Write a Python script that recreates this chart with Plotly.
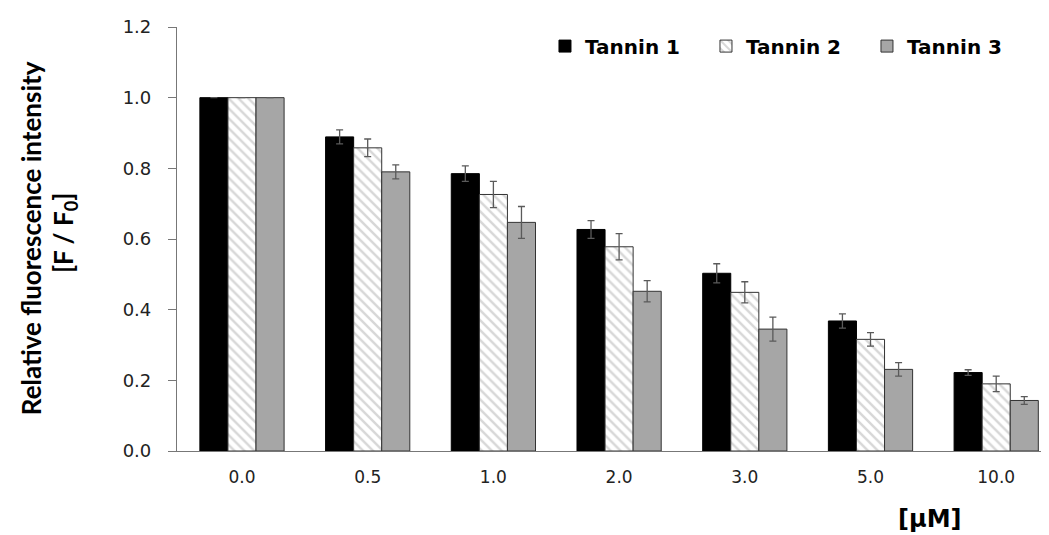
import plotly.graph_objects as go

categories = ["0.0", "0.5", "1.0", "2.0", "3.0", "5.0", "10.0"]
tannin1 = [1.0, 0.889, 0.785, 0.627, 0.503, 0.368, 0.222]
tannin2 = [1.0, 0.858, 0.726, 0.578, 0.449, 0.316, 0.190]
tannin3 = [1.0, 0.790, 0.647, 0.452, 0.345, 0.231, 0.143]
err1 = [0.0, 0.020, 0.022, 0.025, 0.027, 0.020, 0.008]
err2 = [0.0, 0.025, 0.037, 0.037, 0.030, 0.019, 0.022]
err3 = [0.0, 0.020, 0.045, 0.030, 0.034, 0.019, 0.011]

xpos = list(range(len(categories)))

def ebar(e):
    return dict(type="data", array=e, visible=True, color="#5a5a5a", thickness=1.3, width=3.5)

fig = go.Figure()
fig.add_trace(go.Bar(
    x=xpos, y=tannin1, name="Tannin 1", error_y=ebar(err1),
    marker=dict(color="#000000", line=dict(color="#000000", width=1)),
))
fig.add_trace(go.Bar(
    x=xpos, y=tannin2, name="Tannin 2", error_y=ebar(err2),
    marker=dict(color="#ffffff", line=dict(color="#333333", width=1),
                pattern=dict(shape="\\", fgcolor="#b0b0b0", bgcolor="#ffffff", size=7, solidity=0.35)),
))
fig.add_trace(go.Bar(
    x=xpos, y=tannin3, name="Tannin 3", error_y=ebar(err3),
    marker=dict(color="#a6a6a6", line=dict(color="#333333", width=1)),
))

fig.update_layout(
    width=1049, height=535,
    margin=dict(l=169, r=8, t=11, b=92),
    paper_bgcolor="white", plot_bgcolor="white",
    barmode="group", bargap=0.33, bargroupgap=0,
    font=dict(family="DejaVu Sans", color="#222222"),
    showlegend=True,
    legend=dict(orientation="h", x=0.422, y=0.955, xanchor="left", yanchor="middle",
                font=dict(family="DejaVu Sans", size=20, color="#000000", weight="bold"),
                itemwidth=30, entrywidth=116, traceorder="normal", bgcolor="rgba(0,0,0,0)"),
    xaxis=dict(
        tickmode="array", tickvals=xpos, ticktext=categories,
        range=[-0.517, 6.42], showgrid=False, ticks="",
        showline=True, linecolor="#777777", linewidth=1.2,
        tickfont=dict(family="DejaVu Sans", size=17, color="#222222"),
        ticklabelstandoff=10,
    ),
    yaxis=dict(
        range=[0, 1.2], dtick=0.2, tickformat=".1f", showgrid=False, zeroline=False,
        showline=True, linecolor="#777777", linewidth=1.2, ticks="outside",
        ticklen=8, tickcolor="#777777", ticklabelstandoff=13,
        tickfont=dict(family="DejaVu Sans", size=18, color="#222222"),
    ),
)

title_font = dict(family="Lato, Roboto", size=26, color="#000000", weight="bold")
fig.add_annotation(
    text="Relative fluorescence intensity", xref="paper", yref="paper",
    x=-0.1674, y=0.502, xanchor="center", yanchor="middle", textangle=-90,
    showarrow=False, font=title_font,
)
fig.add_annotation(
    text="[F / F<sub>0</sub>]", xref="paper", yref="paper",
    x=-0.1296, y=0.514, xanchor="center", yanchor="middle", textangle=-90,
    showarrow=False, font=title_font,
)
fig.add_annotation(
    text="[µM]", xref="paper", yref="paper", x=0.8635, y=-0.161,
    xanchor="center", yanchor="middle", showarrow=False,
    font=dict(family="DejaVu Sans", size=24, color="#000000", weight="bold"),
)

fig.write_html("out.html")
